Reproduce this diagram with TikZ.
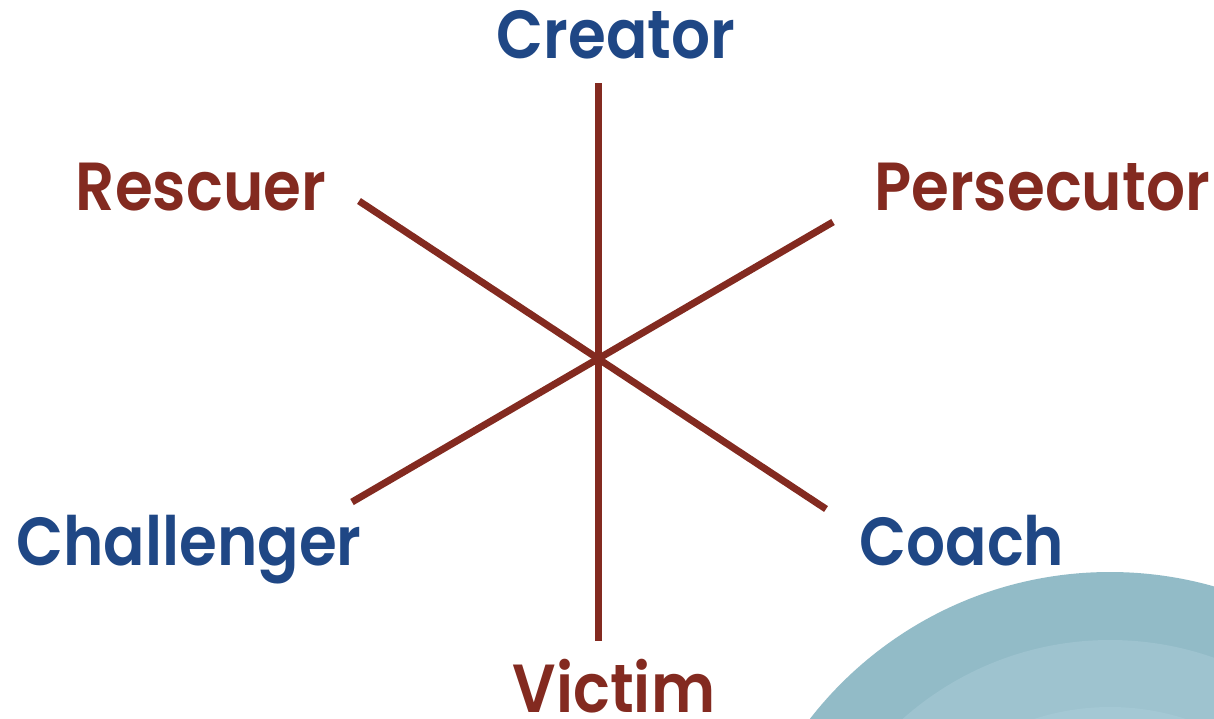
\documentclass[tikz,border=0pt]{standalone}
\usepackage{fontspec}
\setmainfont{Poppins}[UprightFont=* SemiBold, FakeStretch=0.9]
\definecolor{rolered}{HTML}{832A20}
\definecolor{roleblue}{HTML}{1F4785}
\definecolor{ringA}{HTML}{92BBC7}
\definecolor{ringB}{HTML}{9EC3CF}
\definecolor{ringC}{HTML}{A4C8D4}
\begin{document}
\begin{tikzpicture}[x=1pt,y=-1pt,
  label/.style={anchor=base,inner sep=0pt,font=\fontsize{68}{68}\selectfont},
  redlabel/.style={label,text=rolered},
  bluelabel/.style={label,text=roleblue},
  spoke/.style={draw=rolered,line width=7pt}]
\useasboundingbox (0,0) rectangle (1214,718);
\begin{scope}
\clip (0,0) rectangle (1214,718);
\fill[ringA] (1110,952) circle (380);
\fill[ringB] (1110,952) circle (312);
\fill[ringC] (1110,952) circle (245);
\end{scope}
\coordinate (top) at (598,83);
\coordinate (bottom) at (598,641);
\coordinate (ul) at (359,201);
\coordinate (lr) at (826,509);
\coordinate (ur) at (833,222);
\coordinate (ll) at (352,502);
\draw[spoke] (top) -- (bottom);
\draw[spoke] (ul) -- (lr);
\draw[spoke] (ur) -- (ll);
\node[bluelabel] (creator) at (616,58) {Creator};
\node[redlabel] (rescuer) at (201,210) {Rescuer};
\node[redlabel] (persecutor) at (1042,210) {Persecutor};
\node[bluelabel] (challenger) at (189,565) {Challenger};
\node[bluelabel] (coach) at (962,565) {Coach};
\node[redlabel] (victim) at (614,712) {Victim};
\end{tikzpicture}
\end{document}
